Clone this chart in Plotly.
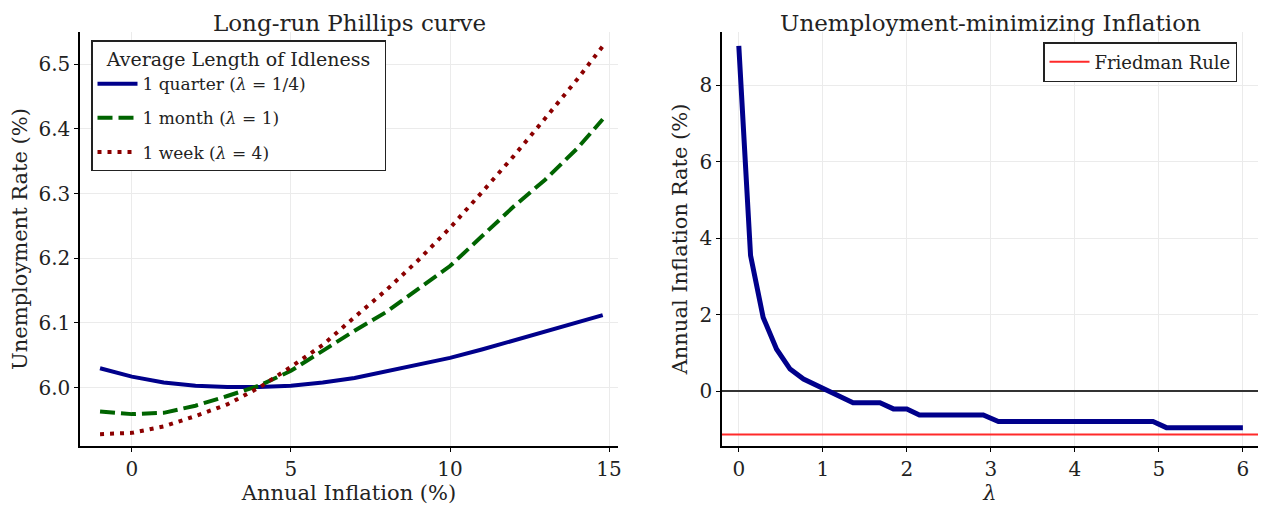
import plotly.graph_objects as go

# ---- Left panel: long-run Phillips curves ----
inflation = [-1, 0, 1, 2, 3, 4, 5, 6, 7, 8, 9, 10, 11, 12, 13, 14, 14.8]
u_quarter = [6.030, 6.017, 6.008, 6.003, 6.001, 6.001, 6.003, 6.008, 6.015, 6.025,
             6.035, 6.046, 6.059, 6.073, 6.087, 6.101, 6.112]
u_month = [5.963, 5.959, 5.961, 5.972, 5.987, 6.003, 6.026, 6.057, 6.088, 6.117,
           6.153, 6.188, 6.234, 6.280, 6.322, 6.370, 6.415]
u_week = [5.928, 5.930, 5.940, 5.956, 5.974, 6.000, 6.032, 6.066, 6.109, 6.151,
          6.197, 6.247, 6.302, 6.358, 6.417, 6.477, 6.528]
series_names = ["1 quarter (<i>λ</i> = 1/4)", "1 month (<i>λ</i> = 1)", "1 week (<i>λ</i> = 4)"]

# ---- Right panel: unemployment-minimizing inflation ----
lam = [0, 0.14, 0.29, 0.45, 0.61, 0.77, 1.36, 1.68, 1.84, 2.00, 2.15, 2.91, 3.09, 4.93, 5.09, 6.0]
pi_star = [9.03, 3.55, 1.93, 1.10, 0.58, 0.32, -0.30, -0.30, -0.46, -0.46, -0.62, -0.62,
           -0.79, -0.79, -0.95, -0.95]
friedman_rule = -1.13

left_xticks = [0, 5, 10, 15]
left_yticks = [6.0, 6.1, 6.2, 6.3, 6.4, 6.5]
right_xticks = [0, 1, 2, 3, 4, 5, 6]
right_yticks = [0, 2, 4, 6, 8]

FONT = "DejaVu Serif"
OFF = 8  # page body margin
FW, FH = 1258, 499
TXT = "#222222"


def px(p):
    return (p - OFF) / FW


def py(p):
    return 1 - (p - OFF) / FH


fig = go.Figure()

styles = [
    dict(color="#00008b", width=4, dash="solid"),
    dict(color="#006400", width=4, dash="15px,6px"),
    dict(color="#8b0000", width=4, dash="4px,6px"),
]
for i, (name, ys, st) in enumerate(zip(series_names, [u_quarter, u_month, u_week], styles)):
    fig.add_trace(go.Scatter(x=inflation, y=ys, mode="lines", name=name,
                             line=st, xaxis="x", yaxis="y", legend="legend",
                             legendgroup=f"g{i}"))

fig.add_trace(go.Scatter(x=lam, y=pi_star, mode="lines", showlegend=False,
                         line=dict(color="#00008b", width=5), xaxis="x2", yaxis="y2"))

# Friedman-rule horizontal line spanning the right panel
fig.add_shape(type="line", xref="x2 domain", yref="y2", x0=0, x1=1,
              y0=friedman_rule, y1=friedman_rule,
              line=dict(color="#ff2a2a", width=2), layer="above",
              showlegend=True, name="Friedman Rule", legend="legend2")

ydom = [py(446), py(32)]
axis_common = dict(showline=True, linecolor="black", linewidth=1.5, mirror=False,
                   ticks="outside", ticklen=4, tickcolor="black", tickwidth=1,
                   showgrid=True, gridcolor="#ebebeb", gridwidth=1,
                   automargin=False,
                   tickfont=dict(family=FONT, size=20, color=TXT))
title_font = dict(family=FONT, size=21, color=TXT)

fig.update_layout(
    width=FW, height=FH,
    margin=dict(l=0, r=0, t=0, b=0, autoexpand=False),
    paper_bgcolor="white", plot_bgcolor="white",
    font=dict(family=FONT, color=TXT),
    xaxis=dict(domain=[px(80), px(618)], range=[-1.63, 15.28], tickvals=left_xticks,
               title=dict(text="Annual Inflation (%)", font=title_font, standoff=4),
               anchor="y", zeroline=False, **axis_common),
    yaxis=dict(domain=ydom, range=[5.9097, 6.550], tickvals=left_yticks, tickformat=".1f",
               title=dict(text="Unemployment Rate (%)", font=title_font, standoff=6),
               anchor="x", zeroline=False, **axis_common),
    xaxis2=dict(domain=[px(722), px(1258)], range=[-0.2, 6.18], tickvals=right_xticks,
                title=dict(text="<i>λ</i>", font=title_font, standoff=4),
                anchor="y2", zeroline=False, **axis_common),
    yaxis2=dict(domain=ydom, range=[-1.43, 9.39], tickvals=right_yticks,
                title=dict(text="Annual Inflation Rate (%)", font=title_font, standoff=6),
                anchor="x2", zeroline=True, zerolinecolor="#333333", zerolinewidth=1.6,
                **axis_common),
    legend=dict(x=px(91), y=py(40), xanchor="left", yanchor="top",
                bgcolor="white", bordercolor=TXT, borderwidth=1.5,
                font=dict(family=FONT, size=17, color=TXT),
                title=dict(text="  Average Length of Idleness  ", side="top center",
                           font=dict(family=FONT, size=19, color=TXT)),
                itemwidth=40, tracegroupgap=9),
    legend2=dict(x=px(1043), y=py(42), xanchor="left", yanchor="top",
                 bgcolor="white", bordercolor=TXT, borderwidth=1.5,
                 font=dict(family=FONT, size=18, color=TXT), itemwidth=40),
    annotations=[
        dict(text="Long-run Phillips curve", x=px((80 + 618) / 2), y=1.0,
             xref="paper", yref="paper", showarrow=False, xanchor="center", yanchor="top",
             font=dict(family=FONT, size=23, color=TXT)),
        dict(text="Unemployment-minimizing Inflation", x=px((722 + 1258) / 2), y=1.0,
             xref="paper", yref="paper", showarrow=False, xanchor="center", yanchor="top",
             font=dict(family=FONT, size=23, color=TXT)),
    ],
)

fig.write_html("out.html")
